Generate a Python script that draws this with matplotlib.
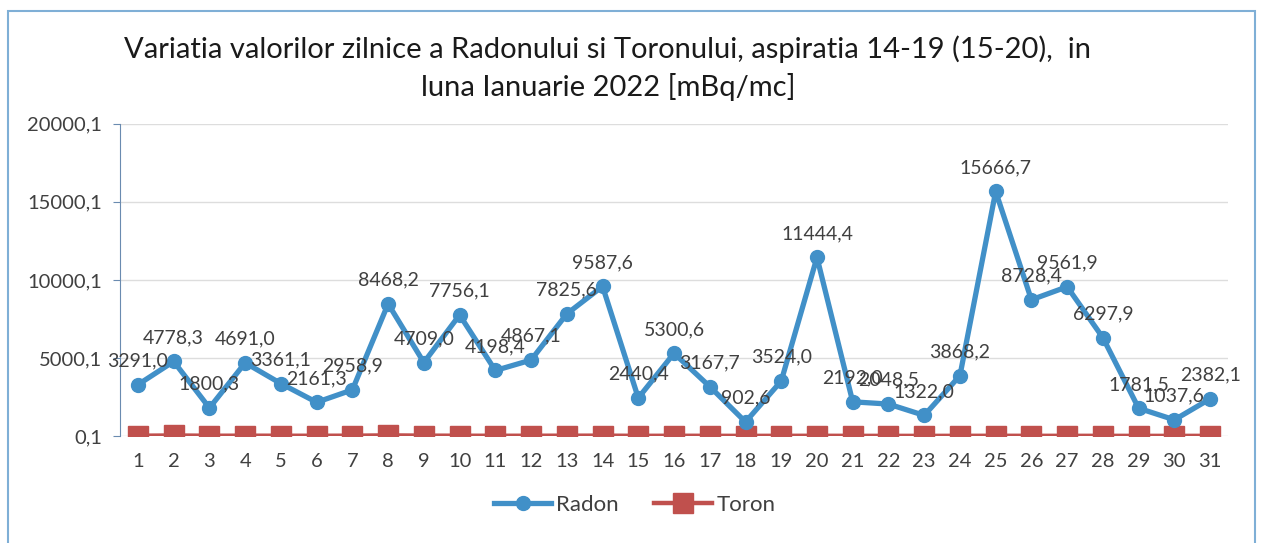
import numpy as np
import matplotlib
matplotlib.use("Agg")
import matplotlib.pyplot as plt
from matplotlib.patches import Rectangle

# zilele lunii
zile = list(range(1, 32))

# Radon [mBq/mc], citit din etichete
radon = [3291.0, 4778.3, 1800.3, 4691.0, 3361.1, 2161.3, 2958.9, 8468.2, 4709.0, 7756.1,
         4198.4, 4867.1, 7825.6, 9587.6, 2440.4, 5300.6, 3167.7, 902.6, 3524.0, 11444.4,
         2192.0, 2048.5, 1322.0, 3868.2, 15666.7, 8728.4, 9561.9, 6297.9, 1781.5, 1037.6,
         2382.1]

# Toron - valori foarte mici, aproape de zero
toron = [20.1, 35.2, 18.4, 22.0, 19.5, 17.3, 21.8, 40.6, 25.1, 19.9,
         16.2, 18.8, 21.4, 24.0, 12.7, 16.5, 14.3, 9.8, 13.6, 15.2,
         11.1, 10.4, 9.2, 12.8, 14.9, 13.3, 12.5, 11.7, 10.6, 9.5,
         10.9]

yticks = [0.1, 5000.1, 10000.1, 15000.1, 20000.1]

titlu = ("Variatia valorilor zilnice a Radonului si Toronului, aspiratia 14-19 (15-20),  in\n"
         "luna Ianuarie 2022 [mBq/mc]")

c_radon = '#4190C8'
c_toron = '#C0504D'
c_text = '#404040'

plt.rcParams['font.family'] = ['Lato', 'DejaVu Sans']

fig = plt.figure(figsize=(12.64, 5.43), dpi=100)
ax = fig.add_axes([0.095, 0.197, 0.8765, 0.575])

ax.plot(zile, toron, color=c_toron, lw=3.2, marker='s', markersize=14, label='Toron', zorder=3)
ax.plot(zile, radon, color=c_radon, lw=3.8, marker='o', markersize=10, label='Radon', zorder=4)

for x, v in zip(zile, radon):
    ax.annotate(f"{v:.1f}".replace('.', ','), (x, v), xytext=(0, 11), textcoords='offset points',
                ha='center', va='bottom', fontsize=14, color=c_text, zorder=5)

ax.set_xlim(0.5, 31.5)
ax.set_ylim(0.1, 20000.1)
ax.set_xticks(zile)
ax.set_xticklabels([str(z) for z in zile], fontsize=14.5, color=c_text)
ax.set_yticks(yticks)
ax.set_yticklabels([f"{t:.1f}".replace('.', ',') for t in yticks], fontsize=14.5, color=c_text)
ax.tick_params(axis='x', length=0, pad=12)
ax.tick_params(axis='y', length=5, color='#6A8BB0', pad=8)
ax.grid(axis='y', color='#DDDDDD', lw=1)
ax.set_axisbelow(True)
for s in ['top', 'right', 'bottom']:
    ax.spines[s].set_visible(False)
ax.spines['left'].set_color('#6A8BB0')

h, l = ax.get_legend_handles_labels()
fig.legend(h[::-1], l[::-1], loc='center', bbox_to_anchor=(0.502, 0.07), ncol=2, frameon=False,
           fontsize=16, handlelength=2.6, columnspacing=1.6, handletextpad=0.2, labelcolor=c_text)

fig.text(0.481, 0.875, titlu, ha='center', va='center', fontsize=21, color='#1a1a1a', linespacing=1.45)

# rama graficului
fig.patches.append(Rectangle((0.006, -0.01), 0.987, 0.99, transform=fig.transFigure,
                             fill=False, edgecolor='#7FAFD6', lw=1.5))

fig.savefig('out.png', dpi=100, facecolor='white')
